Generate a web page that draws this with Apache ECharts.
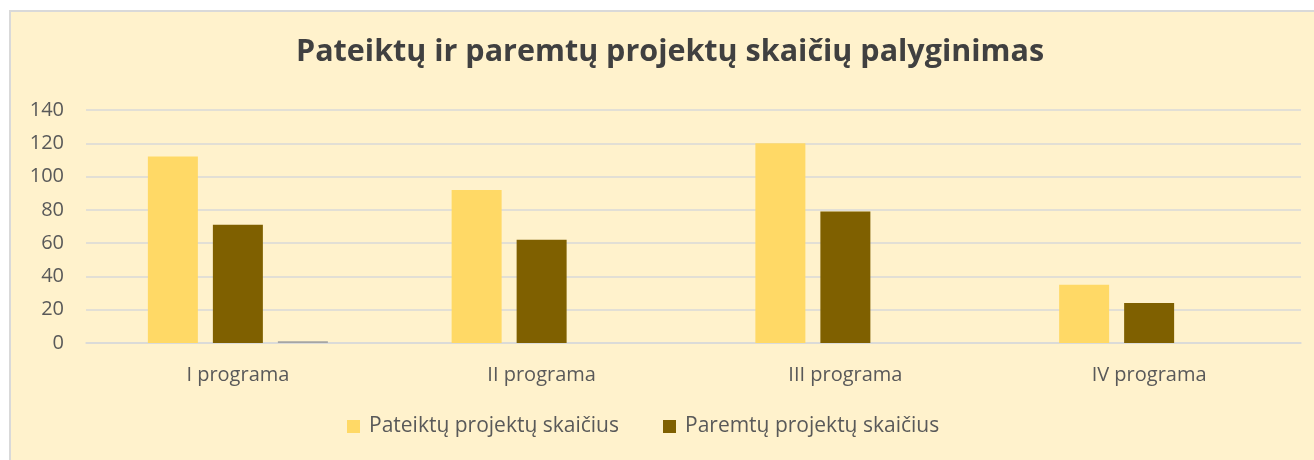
<!DOCTYPE html>
<html>
<head>
<meta charset="utf-8">
<script src="https://cdn.jsdelivr.net/npm/echarts@6/dist/echarts.min.js"></script>
<style>
    html, body { margin: 0; padding: 0; background: #fff; }
    #box {
        position: absolute; left: 9px; top: 10px;
        width: 1303px; height: 448px;
        border-left: 2px solid #d9d9d9; border-top: 2px solid #d9d9d9;
        background: #FFF2CC;
    }
    #chart { width: 1303px; height: 448px; }
</style>
</head>
<body>
<div id="box"><div id="chart"></div></div>
<script>
var categories = ['I programa', 'II programa', 'III programa', 'IV programa'];
var pateikta = [112, 92, 120, 35];
var paremta = [71, 62, 79, 24];
var kita = [1, 0, 0, 0];
var yTicks = [0, 20, 40, 60, 80, 100, 120, 140];

var font = '"Open Sans", "Noto Sans", sans-serif';
var chart = echarts.init(document.getElementById('chart'), null, {renderer: 'canvas'});

var option = {
    backgroundColor: 'transparent',
    animation: false,
    title: {
        text: 'Pateiktų ir paremtų projektų skaičių palyginimas',
        left: 280,
        top: 20,
        textStyle: {fontFamily: font, fontWeight: 'bold', fontSize: 30.5, color: '#404040'}
    },
    legend: {
        data: ['Pateiktų projektų skaičius', 'Paremtų projektų skaičius'],
        bottom: 18,
        left: 331,
        icon: 'rect',
        itemWidth: 13,
        itemHeight: 13,
        itemGap: 44,
        textStyle: {fontFamily: font, fontSize: 21, color: '#595959', padding: [0, 0, 0, 4]}
    },
    grid: {left: 75, right: 13, top: 98, bottom: 117},
    xAxis: {
        type: 'category',
        data: categories,
        axisLine: {lineStyle: {color: '#d9d9d9', width: 1.5}},
        axisTick: {show: false},
        axisLabel: {fontFamily: font, fontSize: 20, color: '#595959', margin: 22}
    },
    yAxis: {
        type: 'value',
        min: yTicks[0],
        max: yTicks[yTicks.length - 1],
        interval: 20,
        axisLine: {show: false},
        axisTick: {show: false},
        splitLine: {lineStyle: {color: '#d9d9d9', width: 1.5}},
        axisLabel: {fontFamily: font, fontSize: 20, color: '#595959', margin: 22}
    },
    series: [{
        name: 'Pateiktų projektų skaičius',
        type: 'bar',
        data: pateikta,
        barWidth: 50,
        barGap: '30%',
        itemStyle: {color: '#FFD966'}
    }, {
        name: 'Paremtų projektų skaičius',
        type: 'bar',
        data: paremta,
        barWidth: 50,
        barGap: '30%',
        itemStyle: {color: '#7F6000'}
    }, {
        name: 'kita',
        type: 'bar',
        data: kita,
        barWidth: 50,
        barGap: '30%',
        itemStyle: {color: '#A5A5A5'}
    }]
};
chart.setOption(option);
</script>
</body>
</html>
